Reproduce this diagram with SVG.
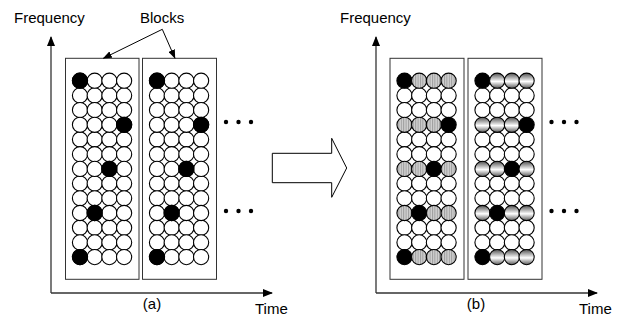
<svg xmlns="http://www.w3.org/2000/svg" xmlns:xlink="http://www.w3.org/1999/xlink" width="624" height="320" viewBox="0 0 624 320">
<style>
text{font-family:"Liberation Sans",Arial,sans-serif;font-size:15px;fill:#000}
.blk{fill:#fff;stroke:#333;stroke-width:1}
.c{stroke:#000;stroke-width:1.1}
.w{fill:#fff}
.k{fill:#000}
.s{fill:url(#stripe)}
.m{fill:url(#metal)}
.ax{stroke:#333;stroke-width:1.3;fill:none}
.ln{stroke:#000;stroke-width:1;fill:none}
.dot{fill:#000}
</style>
<defs>
<pattern id="stripe" width="2.4" height="4" patternUnits="userSpaceOnUse"><rect width="2.4" height="4" fill="#d2d2d2"/><rect width="1" height="4" fill="#9c9c9c"/></pattern>
<linearGradient id="metal" x1="0" y1="0" x2="0" y2="1"><stop offset="0" stop-color="#505050"/><stop offset="0.55" stop-color="#ffffff"/><stop offset="1" stop-color="#5a5a5a"/></linearGradient>
<g id="wrow"><circle class="c w" cx="0" cy="0" r="7.6"/><circle class="c w" cx="14.7" cy="0" r="7.6"/><circle class="c w" cx="29.4" cy="0" r="7.6"/><circle class="c w" cx="44.1" cy="0" r="7.6"/></g>
<g id="plain">
<use xlink:href="#wrow" y="95.4"/><use xlink:href="#wrow" y="110.1"/><use xlink:href="#wrow" y="139.5"/><use xlink:href="#wrow" y="154.2"/><use xlink:href="#wrow" y="183.6"/><use xlink:href="#wrow" y="198.3"/><use xlink:href="#wrow" y="227.7"/><use xlink:href="#wrow" y="242.4"/>
</g>
<g id="patA">
<use xlink:href="#wrow" y="80.7"/><use xlink:href="#wrow" y="124.8"/><use xlink:href="#wrow" y="168.9"/><use xlink:href="#wrow" y="213"/><use xlink:href="#wrow" y="257.1"/>
<circle class="c k" cx="0" cy="80.7" r="7.6"/><circle class="c k" cx="44.1" cy="124.8" r="7.6"/><circle class="c k" cx="29.4" cy="168.9" r="7.6"/><circle class="c k" cx="14.7" cy="213" r="7.6"/><circle class="c k" cx="0" cy="257.1" r="7.6"/>
</g>
<marker id="ah" markerWidth="10" markerHeight="8" refX="9" refY="4" orient="auto" markerUnits="userSpaceOnUse"><path d="M0,0 L10,4 L0,8 z" fill="#000"/></marker>
<marker id="ahs" markerWidth="9" markerHeight="7" refX="8.5" refY="3.5" orient="auto" markerUnits="userSpaceOnUse"><path d="M0,0 L9,3.5 L0,7 z" fill="#000"/></marker>
</defs>
<rect width="624" height="320" fill="#fff"/>

<g id="axes-a">
<line class="ax" x1="51" y1="293" x2="51" y2="37" marker-end="url(#ah)"/>
<line class="ax" x1="51" y1="293" x2="272" y2="293" marker-end="url(#ah)"/>
</g>
<g id="axes-b">
<line class="ax" x1="376" y1="293" x2="376" y2="37" marker-end="url(#ah)"/>
<line class="ax" x1="376" y1="293" x2="597" y2="293" marker-end="url(#ah)"/>
</g>

<g id="block1">
<rect class="blk" x="65.5" y="58.3" width="73.5" height="221"/>
<use xlink:href="#plain" x="80"/><use xlink:href="#patA" x="80"/>
</g>
<g id="block2">
<rect class="blk" x="142.5" y="58.3" width="74" height="221"/>
<use xlink:href="#plain" x="157"/><use xlink:href="#patA" x="157"/>
</g>
<g id="block3">
<rect class="blk" x="390" y="58.3" width="74" height="221"/>
<use xlink:href="#plain" x="404.5"/>
<circle class="c k" cx="404.5" cy="80.7" r="7.6"/><circle class="c s" cx="419.2" cy="80.7" r="7.6"/><circle class="c s" cx="433.9" cy="80.7" r="7.6"/><circle class="c s" cx="448.6" cy="80.7" r="7.6"/>
<circle class="c s" cx="404.5" cy="124.8" r="7.6"/><circle class="c s" cx="419.2" cy="124.8" r="7.6"/><circle class="c s" cx="433.9" cy="124.8" r="7.6"/><circle class="c k" cx="448.6" cy="124.8" r="7.6"/>
<circle class="c s" cx="404.5" cy="168.9" r="7.6"/><circle class="c s" cx="419.2" cy="168.9" r="7.6"/><circle class="c k" cx="433.9" cy="168.9" r="7.6"/><circle class="c s" cx="448.6" cy="168.9" r="7.6"/>
<circle class="c s" cx="404.5" cy="213" r="7.6"/><circle class="c k" cx="419.2" cy="213" r="7.6"/><circle class="c s" cx="433.9" cy="213" r="7.6"/><circle class="c s" cx="448.6" cy="213" r="7.6"/>
<circle class="c k" cx="404.5" cy="257.1" r="7.6"/><circle class="c s" cx="419.2" cy="257.1" r="7.6"/><circle class="c s" cx="433.9" cy="257.1" r="7.6"/><circle class="c s" cx="448.6" cy="257.1" r="7.6"/>
</g>
<g id="block4">
<rect class="blk" x="468" y="58.3" width="74" height="221"/>
<use xlink:href="#plain" x="482.5"/>
<circle class="c k" cx="482.5" cy="80.7" r="7.6"/><circle class="c m" cx="497.2" cy="80.7" r="7.6"/><circle class="c m" cx="511.9" cy="80.7" r="7.6"/><circle class="c m" cx="526.6" cy="80.7" r="7.6"/>
<circle class="c m" cx="482.5" cy="124.8" r="7.6"/><circle class="c m" cx="497.2" cy="124.8" r="7.6"/><circle class="c m" cx="511.9" cy="124.8" r="7.6"/><circle class="c k" cx="526.6" cy="124.8" r="7.6"/>
<circle class="c m" cx="482.5" cy="168.9" r="7.6"/><circle class="c m" cx="497.2" cy="168.9" r="7.6"/><circle class="c k" cx="511.9" cy="168.9" r="7.6"/><circle class="c m" cx="526.6" cy="168.9" r="7.6"/>
<circle class="c m" cx="482.5" cy="213" r="7.6"/><circle class="c k" cx="497.2" cy="213" r="7.6"/><circle class="c m" cx="511.9" cy="213" r="7.6"/><circle class="c m" cx="526.6" cy="213" r="7.6"/>
<circle class="c k" cx="482.5" cy="257.1" r="7.6"/><circle class="c m" cx="497.2" cy="257.1" r="7.6"/><circle class="c m" cx="511.9" cy="257.1" r="7.6"/><circle class="c m" cx="526.6" cy="257.1" r="7.6"/>
</g>

<g id="ellipses">
<circle class="dot" cx="226" cy="122" r="2.2"/><circle class="dot" cx="238.5" cy="122" r="2.2"/><circle class="dot" cx="251" cy="122" r="2.2"/>
<circle class="dot" cx="226" cy="211" r="2.2"/><circle class="dot" cx="238.5" cy="211" r="2.2"/><circle class="dot" cx="251" cy="211" r="2.2"/>
<circle class="dot" cx="551.5" cy="122" r="2.2"/><circle class="dot" cx="564" cy="122" r="2.2"/><circle class="dot" cx="576.5" cy="122" r="2.2"/>
<circle class="dot" cx="551.5" cy="211" r="2.2"/><circle class="dot" cx="564" cy="211" r="2.2"/><circle class="dot" cx="576.5" cy="211" r="2.2"/>
</g>

<g id="big-arrow">
<polygon points="272.3,153.3 331.7,153.3 331.7,138.3 346.7,168 331.7,197.3 331.7,182.7 272.3,182.7" fill="#fff" stroke="#000" stroke-width="1"/>
</g>

<g id="connectors">
<line class="ln" x1="162.3" y1="29.3" x2="103.3" y2="58.3" marker-end="url(#ahs)"/>
<line class="ln" x1="162.3" y1="29.3" x2="175" y2="58.3" marker-end="url(#ahs)"/>
</g>

<g id="labels">
<text x="14" y="23">Frequency</text>
<text x="140" y="23">Blocks</text>
<text x="340" y="23">Frequency</text>
<text x="152" y="309" text-anchor="middle">(a)</text>
<text x="476" y="309" text-anchor="middle">(b)</text>
<text x="255" y="314">Time</text>
<text x="579" y="314">Time</text>
</g>
</svg>
